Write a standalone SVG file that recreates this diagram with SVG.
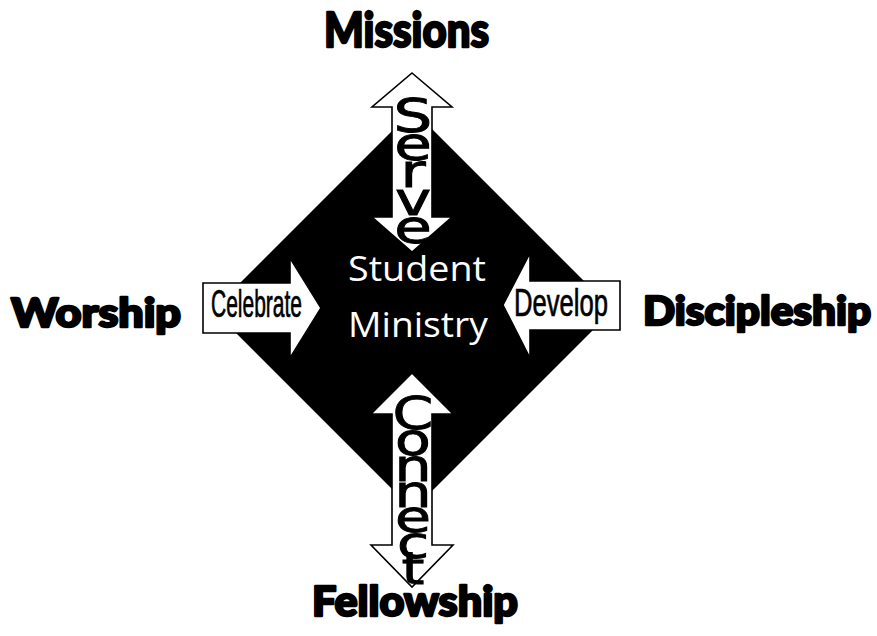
<svg xmlns="http://www.w3.org/2000/svg" width="877" height="636" viewBox="0 0 877 636">
<style>
.big{font-family:Lato,"Open Sans","DejaVu Sans",sans-serif;font-weight:900;fill:#000;stroke:#000;stroke-width:2.4;stroke-linejoin:round}
.arrow{fill:#fff;stroke:#000;stroke-width:1.6;stroke-linejoin:miter}
.lbl{font-family:"Liberation Sans",Arial,sans-serif;fill:#000;stroke:#000;stroke-width:0.7}
.stack{font-family:"DejaVu Sans","Liberation Sans",sans-serif;fill:#000;stroke:#000;stroke-width:0.9;writing-mode:vertical-rl;text-orientation:upright}
.center{font-family:"Open Sans","Noto Sans",sans-serif;font-size:34px;fill:#fff;text-anchor:middle}
</style>
<rect width="877" height="636" fill="#fff"/>
<g id="core">
<polygon points="413,110 613,310 413,510 213,310" fill="#000"/>
<text class="center" x="417" y="281" textLength="138" lengthAdjust="spacingAndGlyphs">Student</text>
<text class="center" x="418" y="337" textLength="140" lengthAdjust="spacingAndGlyphs">Ministry</text>
</g>
<g id="missions"><text class="big" x="324" y="47" font-size="48" textLength="165" lengthAdjust="spacingAndGlyphs">Missions</text></g>
<g id="worship"><text class="big" x="11" y="327" font-size="39" textLength="170" lengthAdjust="spacingAndGlyphs">Worship</text></g>
<g id="discipleship"><text class="big" x="643" y="325" font-size="39" textLength="228" lengthAdjust="spacingAndGlyphs">Discipleship</text></g>
<g id="fellowship"><text class="big" x="312" y="616" font-size="41" textLength="206" lengthAdjust="spacingAndGlyphs">Fellowship</text></g>
<g id="connectors">
<g id="serve">
<polygon class="arrow" points="412,73 452,107 432,107 432,217 452,217 412,252 372,217 392,217 392,107 372,107"/>
<g transform="translate(413,0) scale(1.3,1)">
<text class="stack" x="0" y="88" font-size="47" textLength="166" lengthAdjust="spacing">Serve</text>
</g>
</g>
<g id="connect">
<polygon class="arrow" points="412,373 453,414 432,414 432,545 453,545 412,587 371,545 392,545 392,414 371,414"/>
<g transform="translate(413,0) scale(1.3,1)">
<text class="stack" x="0" y="388" font-size="45" textLength="206" lengthAdjust="spacing">Connect</text>
</g>
</g>
<g id="celebrate">
<polygon class="arrow" points="203,283 290,283 290,258 321,308 290,358 290,333 203,333"/>
<text class="lbl" x="211" y="317" font-size="38" textLength="91" lengthAdjust="spacingAndGlyphs">Celebrate</text>
</g>
<g id="develop">
<polygon class="arrow" points="620,281 530,281 530,253 503,305 530,358 530,330 620,330"/>
<text class="lbl" x="514" y="316" font-size="38" textLength="94" lengthAdjust="spacingAndGlyphs">Develop</text>
</g>
</g>
</svg>
